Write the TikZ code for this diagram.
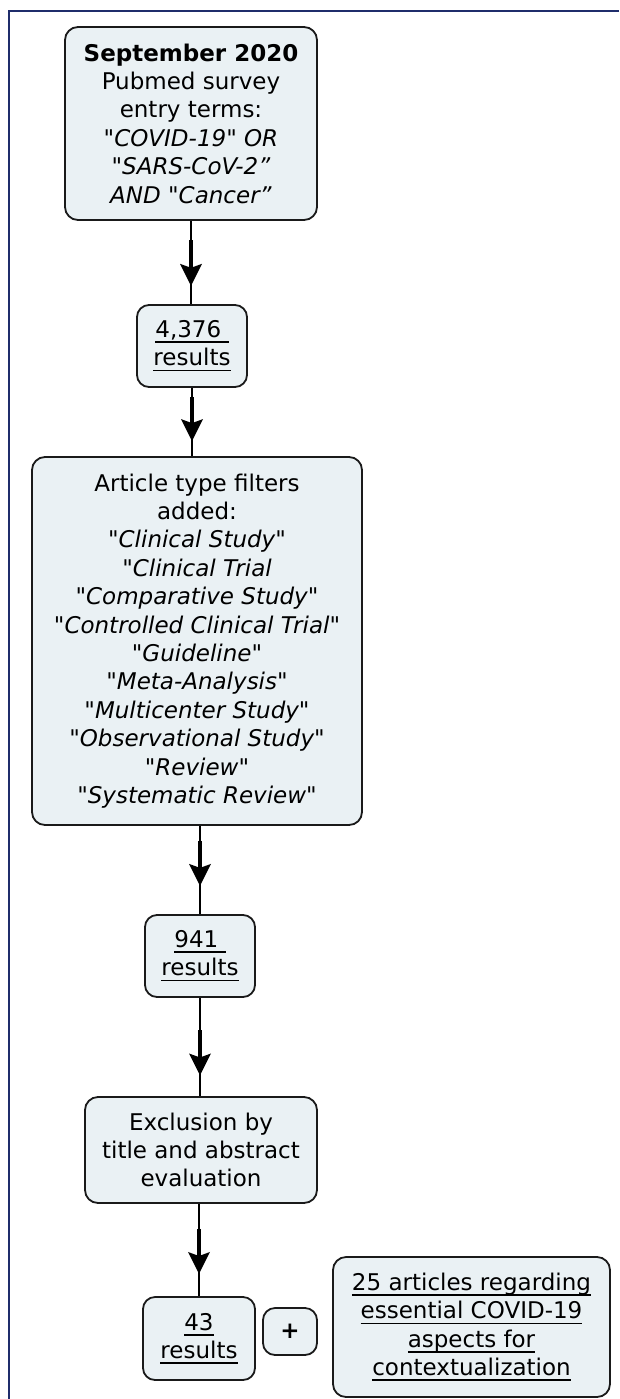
\documentclass[tikz,border=0pt]{standalone}
\usepackage{fontspec}
\setmainfont{DejaVu Sans}[Ligatures=TeXOff]
\usetikzlibrary{arrows.meta,calc}
\definecolor{boxfill}{HTML}{EAF1F4}
\definecolor{boxline}{HTML}{1A1A1A}
\definecolor{framecol}{HTML}{1F2D6B}
\newcommand\myul[1]{\leavevmode\setbox0\hbox{#1}\rlap{\rule[-5.5pt]{\wd0}{1.8pt}}\box0}
\newcommand\dq{\symbol{34}}
\begin{document}
\begin{tikzpicture}[x=1pt,y=-1pt,
  box/.style={draw=boxline, line width=1.8pt, fill=boxfill, rounded corners=13pt,
    align=center, inner sep=0pt, font=\fontsize{23}{28.4}\selectfont, text=black},
  conn/.style={draw=black, line width=1.6pt},
  bigarrow/.style={draw=black, line width=4.5pt, -{Stealth[length=22pt,width=22pt,inset=4pt,line width=0pt]}},
  framestyle/.style={draw=framecol, line width=2pt}]
\useasboundingbox (0,0) rectangle (619,1399);
\draw[framestyle] (619,11.5) -- (8.5,11.5) -- (8.5,1399);

\node[box, minimum width=252pt, minimum height=193pt] (b1) at (191,123.5)
  {\textbf{September 2020}\\Pubmed survey\\entry terms:\\\textit{\dq COVID-19\dq{} OR}\\\textit{\dq SARS-CoV-2”}\\\textit{AND \dq Cancer”}};
\node[box, rounded corners=12pt, minimum width=110pt, minimum height=82pt] (b2) at (192,346)
  {\myul{4,376\ }\\\myul{results}};
\node[box, minimum width=330pt, minimum height=368pt] (b3) at (197,641)
  {Article type filters\\added:\\\textit{\dq Clinical Study\dq}\\\textit{\dq Clinical Trial}\\\textit{\dq Comparative Study\dq}\\\textit{\dq Controlled Clinical Trial\dq}\\\textit{\dq Guideline\dq}\\\textit{\dq Meta-Analysis\dq}\\\textit{\dq Multicenter Study\dq}\\\textit{\dq Observational Study\dq}\\\textit{\dq Review\dq}\\\textit{\dq Systematic Review\dq}};
\node[box, rounded corners=12pt, minimum width=110pt, minimum height=82pt] (b4) at (200,956)
  {\myul{941\ }\\\myul{results}};
\node[box, minimum width=232pt, minimum height=106pt] (b5) at (201,1150)
  {Exclusion by\\title and abstract\\evaluation};
\node[box, rounded corners=12pt, minimum width=112pt, minimum height=83pt] (b6) at (199,1338.5)
  {\myul{43}\\\myul{results}};
\node[box, rounded corners=12pt, minimum width=54pt, minimum height=47pt] (plus) at (290,1331.5)
  {\textbf{+}};
\node[box, minimum width=277pt, minimum height=140pt] (b7) at (471.5,1327)
  {\myul{25 articles regarding}\\\myul{essential COVID-19}\\\myul{aspects for}\\\myul{contextualization}};

% connectors
\coordinate (s1) at (b1.south); \coordinate (e1) at (b1.south |- b2.north);
\coordinate (s2) at (b2.south); \coordinate (e2) at (b2.south |- b3.north);
\coordinate (s3) at (b4.north |- b3.south); \coordinate (e3) at (b4.north);
\coordinate (s4) at (b4.south); \coordinate (e4) at (b4.south |- b5.north);
\coordinate (s5) at (b6.north |- b5.south); \coordinate (e5) at (b6.north);

\draw[conn] (s1) -- (e1);
\draw[bigarrow] ($(s1)!0.235!(e1)$) -- ($(s1)!0.78!(e1)$);
\draw[conn] (s2) -- (e2);
\draw[bigarrow] ($(s2)!0.14!(e2)$) -- ($(s2)!0.78!(e2)$);
\draw[conn] (s3) -- (e3);
\draw[bigarrow] ($(s3)!0.17!(e3)$) -- ($(s3)!0.68!(e3)$);
\draw[conn] (s4) -- (e4);
\draw[bigarrow] ($(s4)!0.33!(e4)$) -- ($(s4)!0.79!(e4)$);
\draw[conn] (s5) -- (e5);
\draw[bigarrow] ($(s5)!0.27!(e5)$) -- ($(s5)!0.76!(e5)$);
\end{tikzpicture}
\end{document}
